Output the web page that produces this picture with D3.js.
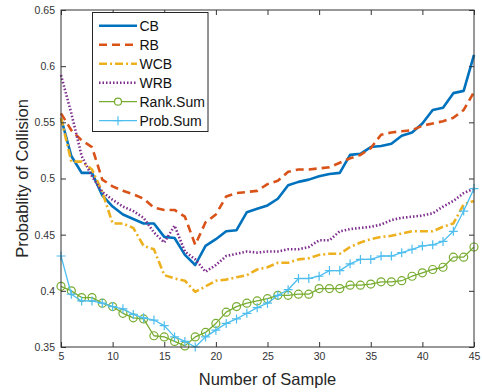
<!DOCTYPE html>
<html><head><meta charset="utf-8">
<script src="https://cdn.jsdelivr.net/npm/d3@7/dist/d3.min.js"></script>
<style>body{margin:0;background:#fff;} text{font-family:Arial,"Liberation Sans",sans-serif;}</style>
</head><body><svg id="c" width="482" height="392"></svg>
<script>
const xs = d3.range(5, 46);
const CB = [0.554,0.520,0.505,0.505,0.485,0.475,0.468,0.464,0.460,0.460,0.448,0.447,0.432,0.423,0.440,0.446,0.453,0.454,0.470,0.473,0.476,0.482,0.494,0.497,0.499,0.502,0.504,0.505,0.521,0.522,0.528,0.529,0.531,0.538,0.541,0.549,0.561,0.563,0.576,0.578,0.610];
const RB = [0.558,0.543,0.534,0.528,0.499,0.493,0.489,0.486,0.482,0.474,0.472,0.472,0.466,0.441,0.461,0.468,0.484,0.487,0.488,0.489,0.495,0.498,0.506,0.508,0.508,0.509,0.510,0.514,0.518,0.521,0.527,0.539,0.541,0.542,0.543,0.547,0.549,0.551,0.554,0.561,0.577];
const WCB = [0.554,0.515,0.515,0.508,0.488,0.460,0.460,0.456,0.440,0.437,0.414,0.411,0.409,0.399,0.404,0.409,0.410,0.412,0.414,0.419,0.421,0.425,0.425,0.428,0.429,0.432,0.433,0.433,0.439,0.443,0.446,0.448,0.449,0.451,0.453,0.453,0.453,0.457,0.460,0.477,0.480];
const WRB = [0.592,0.558,0.520,0.502,0.488,0.481,0.475,0.471,0.465,0.452,0.443,0.458,0.435,0.428,0.417,0.423,0.431,0.433,0.435,0.434,0.435,0.435,0.437,0.437,0.439,0.445,0.445,0.453,0.455,0.456,0.457,0.459,0.463,0.465,0.466,0.467,0.469,0.475,0.480,0.487,0.491];
const RankSum = [0.404,0.400,0.394,0.394,0.389,0.386,0.380,0.376,0.375,0.360,0.359,0.355,0.351,0.359,0.363,0.371,0.381,0.386,0.389,0.391,0.393,0.396,0.396,0.397,0.397,0.402,0.402,0.402,0.405,0.405,0.406,0.408,0.408,0.409,0.413,0.416,0.419,0.421,0.430,0.430,0.439];
const ProbSum = [0.431,0.397,0.391,0.391,0.389,0.386,0.384,0.379,0.376,0.374,0.369,0.359,0.355,0.350,0.359,0.365,0.371,0.375,0.380,0.385,0.389,0.396,0.401,0.411,0.411,0.413,0.418,0.418,0.424,0.428,0.428,0.431,0.431,0.434,0.437,0.440,0.441,0.444,0.453,0.471,0.491];
const xTicks = [5,10,15,20,25,30,35,40,45];
const yTicks = [0.35,0.4,0.45,0.5,0.55,0.6,0.65];
const seriesNames = ["CB","RB","WCB","WRB","Rank.Sum","Prob.Sum"];

const series = [
  {name:seriesNames[0], v:CB, color:"#0072BD", w:2.6, dash:null, marker:null},
  {name:seriesNames[1], v:RB, color:"#D95319", w:2.6, dash:"8,5", marker:null},
  {name:seriesNames[2], v:WCB, color:"#EDB120", w:2.6, dash:"8,3,2,3", marker:null},
  {name:seriesNames[3], v:WRB, color:"#7E2F8E", w:2.6, dash:"1.5,2", marker:null},
  {name:seriesNames[4], v:RankSum, color:"#77AC30", w:1.3, dash:null, marker:"o"},
  {name:seriesNames[5], v:ProbSum, color:"#4DBEEE", w:1.3, dash:null, marker:"+"}
];

const L=61, R=474, T=10, B=347;
const svg = d3.select("#c");
const x = d3.scaleLinear().domain([5,45]).range([L,R]);
const y = d3.scaleLinear().domain([0.35,0.65]).range([B,T]);
const axCol = "#333";

const clip = svg.append("defs").append("clipPath").attr("id","cp").append("rect")
  .attr("x",L-6).attr("y",T-6).attr("width",R-L+12).attr("height",B-T+12);

const line = d3.line().x((d,i)=>x(xs[i])).y(d=>y(d));
const g = svg.append("g").attr("clip-path","url(#cp)");
series.forEach(s=>{
  g.append("path").attr("d",line(s.v)).attr("fill","none").attr("stroke",s.color)
    .attr("stroke-width",s.w).attr("stroke-dasharray",s.dash).attr("stroke-linejoin","round");
  if(s.marker==="o"){
    g.selectAll(null).data(s.v).enter().append("circle")
      .attr("cx",(d,i)=>x(xs[i])).attr("cy",d=>y(d)).attr("r",4)
      .attr("fill","none").attr("stroke",s.color).attr("stroke-width",1.2);
  } else if(s.marker==="+"){
    g.selectAll(null).data(s.v).enter().append("path")
      .attr("d",(d,i)=>{const cx=x(xs[i]),cy=y(d);return `M${cx-4.5},${cy}H${cx+4.5}M${cx},${cy-4.5}V${cy+4.5}`;})
      .attr("stroke",s.color).attr("stroke-width",1.2);
  }
});

// axes (MATLAB box style, inward ticks)
function styleAx(sel){
  sel.select(".domain").remove();
  sel.selectAll("line").attr("stroke",axCol);
  sel.selectAll("text").attr("fill","#333").style("font-size","10.5px");
}
svg.append("g").attr("transform",`translate(0,${B})`)
  .call(d3.axisBottom(x).tickValues(xTicks).tickSizeInner(-5).tickSizeOuter(0).tickPadding(6).tickFormat(d3.format("d")))
  .call(styleAx);
svg.append("g").attr("transform",`translate(0,${T})`)
  .call(d3.axisTop(x).tickValues(xTicks).tickSizeInner(-5).tickSizeOuter(0).tickFormat(""))
  .call(styleAx);
svg.append("g").attr("transform",`translate(${L},0)`)
  .call(d3.axisLeft(y).tickValues(yTicks).tickSizeInner(-5).tickSizeOuter(0).tickPadding(6).tickFormat(d=>d3.format("")(+d.toFixed(2))))
  .call(styleAx);
svg.append("g").attr("transform",`translate(${R},0)`)
  .call(d3.axisRight(y).tickValues(yTicks).tickSizeInner(-5).tickSizeOuter(0).tickFormat(""))
  .call(styleAx);
svg.append("rect").attr("x",L).attr("y",T).attr("width",R-L).attr("height",B-T)
  .attr("fill","none").attr("stroke",axCol).attr("stroke-width",1);

// labels
svg.append("text").attr("x",(L+R)/2).attr("y",385).attr("text-anchor","middle")
  .style("font-size","16.5px").attr("fill","#262626").text("Number of Sample");
svg.append("text").attr("transform",`translate(28,${(T+B)/2}) rotate(-90)`).attr("text-anchor","middle")
  .style("font-size","16.5px").attr("fill","#262626").text("Probablity of Collision");

// legend
const lg = svg.append("g");
lg.append("rect").attr("x",92.5).attr("y",12.5).attr("width",115.5).attr("height",119)
  .attr("fill","#fff").attr("stroke","#262626").attr("stroke-width",1);
series.forEach((s,i)=>{
  const yy = 25.7 + i*19;
  lg.append("line").attr("x1",99).attr("x2",137).attr("y1",yy).attr("y2",yy)
    .attr("stroke",s.color).attr("stroke-width",s.w).attr("stroke-dasharray",s.dash);
  if(s.marker==="o") lg.append("circle").attr("cx",118).attr("cy",yy).attr("r",3.5).attr("fill","#fff").attr("stroke",s.color).attr("stroke-width",1.2);
  if(s.marker==="+") lg.append("path").attr("d",`M113.5,${yy}H122.5M118,${yy-4.5}V${yy+4.5}`).attr("stroke",s.color).attr("stroke-width",1.2);
  lg.append("text").attr("x",139.5).attr("y",yy+5).style("font-size","14px").attr("fill","#111").text(s.name);
});
</script></body></html>
